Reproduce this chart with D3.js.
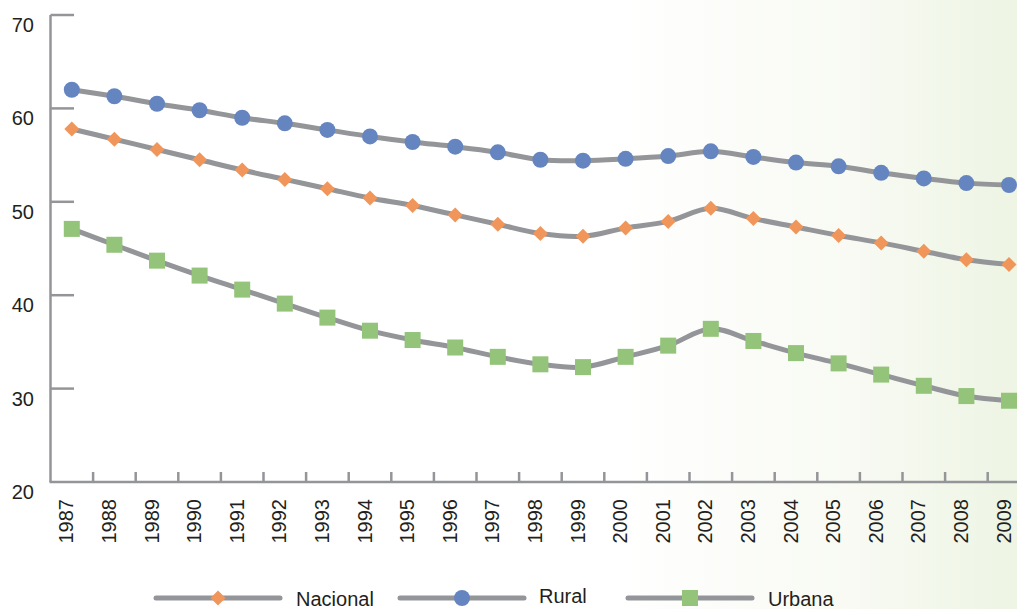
<!DOCTYPE html>
<html>
<head>
<meta charset="utf-8">
<script src="https://cdn.jsdelivr.net/npm/d3@7"></script>
<style>
html,body{margin:0;padding:0;background:#fff;}
svg{display:block;font-family:"Liberation Sans",Arial,Helvetica,sans-serif;}
</style>
</head>
<body>
<svg id="chart" width="1017" height="609"></svg>
<script>
const years = ["1987","1988","1989","1990","1991","1992","1993","1994","1995","1996","1997","1998","1999","2000","2001","2002","2003","2004","2005","2006","2007","2008","2009"];
const nacional = [57.8,56.7,55.6,54.5,53.4,52.4,51.4,50.4,49.6,48.6,47.6,46.6,46.3,47.2,47.9,49.3,48.2,47.3,46.4,45.6,44.7,43.8,43.3];
const rural    = [62.0,61.3,60.5,59.8,59.0,58.4,57.7,57.0,56.4,55.9,55.3,54.5,54.4,54.6,54.9,55.4,54.8,54.2,53.8,53.1,52.5,52.0,51.8];
const urbana   = [47.1,45.4,43.7,42.1,40.6,39.1,37.6,36.2,35.2,34.4,33.4,32.6,32.3,33.4,34.6,36.4,35.1,33.8,32.7,31.5,30.3,29.2,28.7];
const yTicks = [20,30,40,50,60,70];
const seriesNames = ["Nacional","Rural","Urbana"];

const svg = d3.select("#chart");
const W = 1017, H = 609;

// background gradient
const defs = svg.append("defs");
const grad = defs.append("linearGradient").attr("id","bg").attr("x1","0").attr("x2","1").attr("y1","0").attr("y2","0");
grad.append("stop").attr("offset","0.6").attr("stop-color","#ffffff");
grad.append("stop").attr("offset","0.84").attr("stop-color","#f8faf3");
grad.append("stop").attr("offset","0.985").attr("stop-color","#eef5e5");
grad.append("stop").attr("offset","1").attr("stop-color","#eef5e5");
svg.append("rect").attr("width",W).attr("height",H).attr("fill","url(#bg)");

const x = d3.scaleBand().domain(years).range([50.5, 50.5 + 23*42.6]).padding(0);
const cx = d => x(d) + x.bandwidth()/2;
const y = d3.scaleLinear().domain([20,70]).range([482,15]);

const axisColor = "#939598";

// y axis line
svg.append("line").attr("x1",50.5).attr("x2",50.5).attr("y1",y(70)).attr("y2",y(20))
  .attr("stroke",axisColor).attr("stroke-width",2.5);
// y ticks
svg.selectAll(".yt").data(yTicks.filter(t=>t>20)).enter().append("line")
  .attr("x1",50.5).attr("x2",74).attr("y1",d=>y(d)).attr("y2",d=>y(d))
  .attr("stroke",axisColor).attr("stroke-width",2.5);
svg.selectAll(".yl").data(yTicks).enter().append("text")
  .attr("x",34).attr("y",d=>y(d)+17).attr("text-anchor","end")
  .attr("font-size",20).attr("fill","#231f20").text(d=>d);

// x axis
svg.append("line").attr("x1",49.5).attr("x2",W).attr("y1",y(20)).attr("y2",y(20))
  .attr("stroke",axisColor).attr("stroke-width",2.5);
svg.selectAll(".xt").data(years.slice(1)).enter().append("line")
  .attr("x1",d=>x(d)).attr("x2",d=>x(d)).attr("y1",y(20)).attr("y2",y(20)-10)
  .attr("stroke",axisColor).attr("stroke-width",2.5);
svg.selectAll(".xl").data(years).enter().append("text")
  .attr("transform",d=>`translate(${cx(d)+1.5},499) rotate(-90)`)
  .attr("text-anchor","end").attr("font-size",20).attr("fill","#231f20").text(d=>d);

const line = d3.line().x((d,i)=>cx(years[i])).y(d=>y(d)).curve(d3.curveCatmullRom.alpha(0.5));
const lineColor = "#939598";
const colors = {Nacional:"#f0965a", Rural:"#6585c1", Urbana:"#93c47a"};
const data = {Nacional:nacional, Rural:rural, Urbana:urbana};

function marker(g, name, px, py){
  const c = colors[name];
  if(name==="Nacional"){
    const s=7.5;
    g.append("path").attr("d",`M${px},${py-s}L${px+s},${py}L${px},${py+s}L${px-s},${py}Z`).attr("fill",c);
  } else if(name==="Rural"){
    g.append("circle").attr("cx",px).attr("cy",py).attr("r",8).attr("fill",c);
  } else {
    g.append("rect").attr("x",px-8).attr("y",py-8).attr("width",16).attr("height",16).attr("fill",c);
  }
}

["Urbana","Nacional","Rural"].forEach(name=>{
  svg.append("path").attr("d",line(data[name])).attr("fill","none")
    .attr("stroke",lineColor).attr("stroke-width",5);
  const g = svg.append("g");
  data[name].forEach((v,i)=>marker(g,name,cx(years[i]),y(v)));
});

// legend
const legendItems = [
  {name:"Nacional", x1:156, x2:280, tx:296, ty:606},
  {name:"Rural", x1:400, x2:524, tx:539, ty:603},
  {name:"Urbana", x1:628, x2:752, tx:768, ty:606}
];
legendItems.forEach(it=>{
  svg.append("line").attr("x1",it.x1).attr("x2",it.x2).attr("y1",598).attr("y2",598)
    .attr("stroke",lineColor).attr("stroke-width",5).attr("stroke-linecap","round");
  marker(svg, it.name, (it.x1+it.x2)/2, 598);
  svg.append("text").attr("x",it.tx).attr("y",it.ty).attr("font-size",20).attr("fill","#231f20").text(it.name);
});
</script>
</body>
</html>
